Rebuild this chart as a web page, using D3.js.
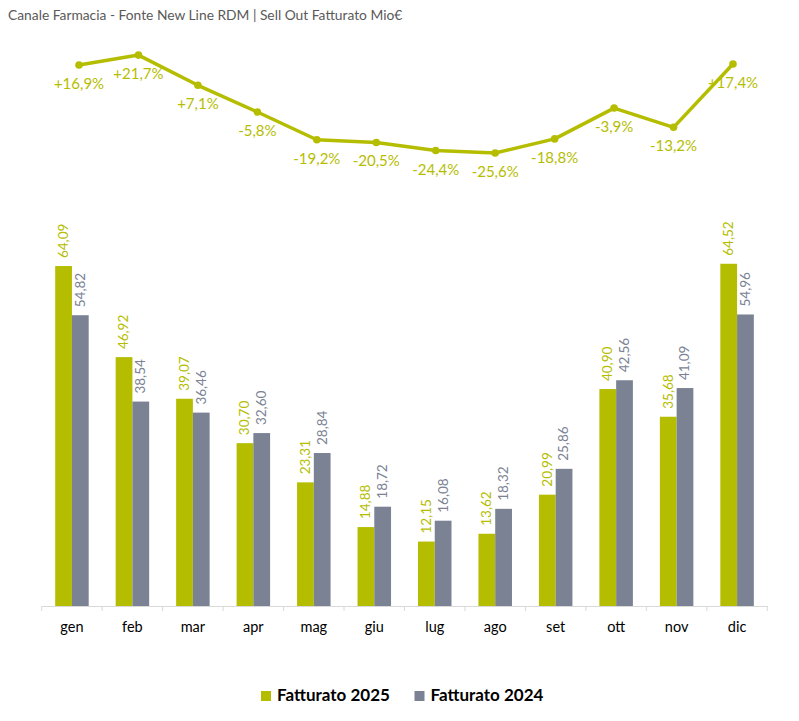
<!DOCTYPE html>
<html>
<head>
<meta charset="utf-8">
<script src="https://cdn.jsdelivr.net/npm/d3@7/dist/d3.min.js"></script>
<style>
  body { margin: 0; background: #fff; }
  svg { font-family: Lato, "Open Sans", sans-serif; }
</style>
</head>
<body>
<div class="chart"></div>
<script>
const months = ["gen", "feb", "mar", "apr", "mag", "giu", "lug", "ago", "set", "ott", "nov", "dic"];
const fatt2025 = [64.09, 46.92, 39.07, 30.70, 23.31, 14.88, 12.15, 13.62, 20.99, 40.90, 35.68, 64.52];
const fatt2024 = [54.82, 38.54, 36.46, 32.60, 28.84, 18.72, 16.08, 18.32, 25.86, 42.56, 41.09, 54.96];
const growth = [16.9, 21.7, 7.1, -5.8, -19.2, -20.5, -24.4, -25.6, -18.8, -3.9, -13.2, 17.4];
const seriesNames = ["Fatturato 2025", "Fatturato 2024"];

const green = "#b5bd00", grey = "#7a8294";
const fmt = v => v.toFixed(2).replace(".", ",");
const fmtPct = v => (v > 0 ? "+" : "") + v.toFixed(1).replace(".", ",") + "%";

const svg = d3.select(".chart").append("svg")
    .attr("width", 799)
    .attr("height", 721);

svg.append("text")
    .attr("x", 8).attr("y", 20)
    .attr("font-size", 13.8)
    .attr("fill", "#595959")
    .text("Canale Farmacia - Fonte New Line RDM | Sell Out Fatturato Mio€");

// bars
const x = d3.scaleBand().domain(months).range([41.7, 767.3]);
const xs = d3.scaleBand().domain(seriesNames).range([13.5, 47]);
const y = d3.scaleLinear().domain([0, 70]).range([606, 234.7]);

const rows = months.map((m, i) => ({ m, vals: [fatt2025[i], fatt2024[i]] }));
const g = svg.selectAll("g.grp")
    .data(rows)
    .enter()
    .append("g")
    .attr("class", "grp")
    .attr("transform", d => "translate(" + x(d.m) + ",0)");

const cols = [green, grey];
g.selectAll("rect")
    .data(d => d.vals.map((v, j) => ({ v, j })))
    .enter()
    .append("rect")
    .attr("x", d => xs(seriesNames[d.j]))
    .attr("width", xs.bandwidth())
    .attr("y", d => y(d.v))
    .attr("height", d => y(0) - y(d.v))
    .attr("fill", d => cols[d.j]);

g.selectAll("text.val")
    .data(d => d.vals.map((v, j) => ({ v, j })))
    .enter()
    .append("text")
    .attr("class", "val")
    .attr("transform", d => "translate(" + (xs(seriesNames[d.j]) + xs.bandwidth() / 2 + 1) + "," + (y(d.v) - 8) + ") rotate(-90)")
    .attr("dominant-baseline", "middle")
    .attr("font-size", 13.5)
    .attr("fill", d => cols[d.j])
    .text(d => fmt(d.v));

// axis
const axis = svg.append("g")
    .attr("transform", "translate(0,606)")
    .call(d3.axisBottom(x).tickSize(0).tickPadding(16));
axis.select(".domain").attr("stroke", "#d9d9d9");
axis.selectAll("text").attr("font-size", 14.5).attr("fill", "#000").attr("font-family", "Lato, sans-serif");
axis.selectAll(".sep")
    .data(d3.range(months.length + 1))
    .enter()
    .append("line")
    .attr("x1", i => x.range()[0] + i * x.step())
    .attr("x2", i => x.range()[0] + i * x.step())
    .attr("y1", 0).attr("y2", 5)
    .attr("stroke", "#d9d9d9");

// growth line
const xl = d3.scalePoint().domain(months).range([79, 733]);
const yl = d3.scaleLinear().domain([-30, 25]).range([162.1, 48.25]);

svg.append("path")
    .datum(growth)
    .attr("fill", "none")
    .attr("stroke", green)
    .attr("stroke-width", 3.5)
    .attr("stroke-linejoin", "round")
    .attr("d", d3.line().x((d, i) => xl(months[i])).y(d => yl(d)));

svg.selectAll("circle.pt")
    .data(growth)
    .enter()
    .append("circle")
    .attr("class", "pt")
    .attr("cx", (d, i) => xl(months[i]))
    .attr("cy", d => yl(d))
    .attr("r", 3.8)
    .attr("fill", green);

svg.selectAll("text.pct")
    .data(growth)
    .enter()
    .append("text")
    .attr("class", "pct")
    .attr("x", (d, i) => xl(months[i]))
    .attr("y", d => yl(d) + 24)
    .attr("text-anchor", "middle")
    .attr("font-size", 15)
    .attr("fill", green)
    .text(d => fmtPct(d));

// legend
const leg = svg.selectAll("g.leg")
    .data(seriesNames)
    .enter()
    .append("g")
    .attr("class", "leg")
    .attr("transform", (d, i) => "translate(" + (261 + i * 153.5) + ",691)");
leg.append("rect").attr("width", 10).attr("height", 10).attr("fill", (d, i) => cols[i]);
leg.append("text")
    .attr("x", 16).attr("y", 10)
    .attr("font-size", 17)
    .attr("font-weight", "bold")
    .attr("fill", "#000")
    .text(d => d);
</script>
</body>
</html>
